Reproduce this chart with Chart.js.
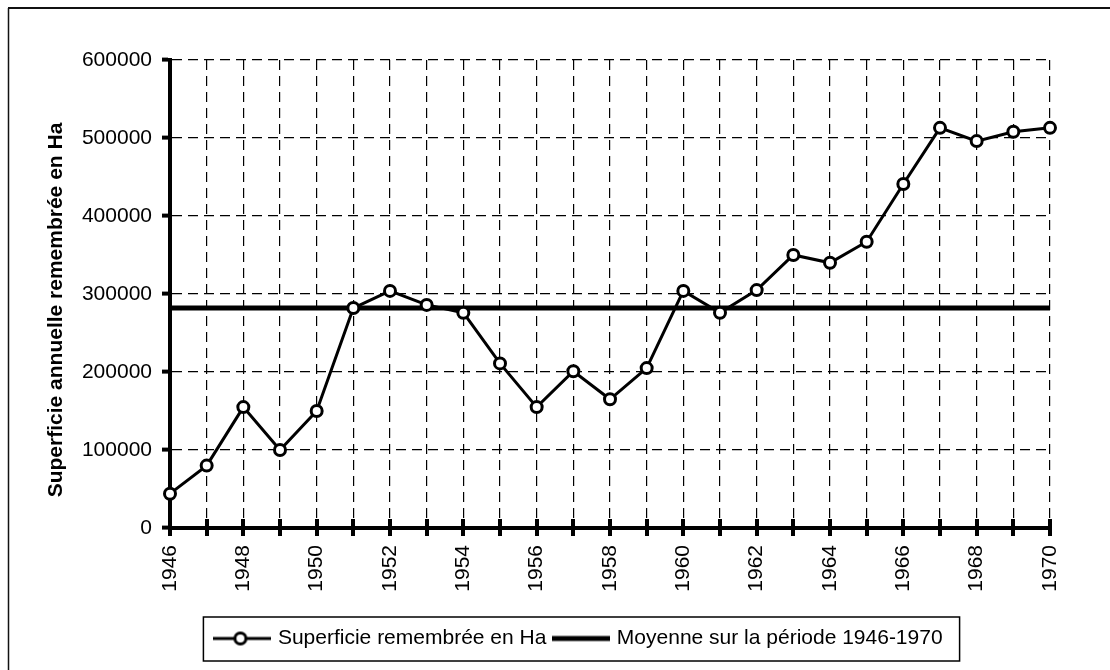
<!DOCTYPE html>
<html>
<head>
<meta charset="utf-8">
<title>Superficie remembrée 1946-1970</title>
<script src="https://cdn.jsdelivr.net/npm/chart.js@4/dist/chart.umd.min.js"></script>
<style>
  body { margin: 0; background: #fff; }
  canvas { display: block; }
</style>
</head>
<body>
<canvas id="chart" width="1110" height="670"></canvas>
<script>
// data
const years = [1946, 1947, 1948, 1949, 1950, 1951, 1952, 1953, 1954, 1955, 1956, 1957, 1958,
               1959, 1960, 1961, 1962, 1963, 1964, 1965, 1966, 1967, 1968, 1969, 1970];
const superficie = [44000, 80000, 155000, 100000, 150000, 282000, 304000, 286000, 276000, 211000,
                    155000, 201000, 165000, 205000, 304000, 276000, 305000, 350000, 340000, 367000,
                    441000, 513000, 496000, 508000, 513000];
const moyenne = [282000, 282000, 282000, 282000, 282000, 282000, 282000, 282000, 282000, 282000,
                 282000, 282000, 282000, 282000, 282000, 282000, 282000, 282000, 282000, 282000,
                 282000, 282000, 282000, 282000, 282000];
const yTicks = [0, 100000, 200000, 300000, 400000, 500000, 600000];
const shownYears = [1946, 1948, 1950, 1952, 1954, 1956, 1958, 1960, 1962, 1964, 1966, 1968, 1970];

const FONT = "'Liberation Sans', Arial, sans-serif";
const LEGEND_SHIFT = 55;

// little pictures for the legend (line + marker, thick line)
function legendSymbol(withCircle, lw) {
    var c = document.createElement('canvas');
    c.width = 58;
    c.height = 22;
    var g = c.getContext('2d');
    g.strokeStyle = '#000';
    g.lineWidth = lw;
    g.beginPath();
    g.moveTo(0, 11);
    g.lineTo(58, 11);
    g.stroke();
    if (withCircle) {
        g.beginPath();
        g.arc(27, 11, 5.5, 0, Math.PI * 2);
        g.fillStyle = '#fff';
        g.fill();
        g.lineWidth = 3;
        g.stroke();
    }
    return c;
}
const legendSymbols = [legendSymbol(true, 3), legendSymbol(false, 5)];

const framePlugin = {
    id: 'frame',
    afterLayout: function (chart) {
        // move the legend under the plot like in the original
        chart.legend.left += LEGEND_SHIFT;
        chart.legend.right += LEGEND_SHIFT;
    },
    afterDraw: function (chart) {
        var ctx = chart.ctx;
        var area = chart.chartArea;
        ctx.save();
        // outer frame (left and top edges only are in the scan)
        ctx.strokeStyle = '#111';
        ctx.lineWidth = 1.5;
        ctx.beginPath();
        ctx.moveTo(8.5, 670);
        ctx.lineTo(8.5, 8);
        ctx.stroke();
        ctx.lineWidth = 2;
        ctx.beginPath();
        ctx.moveTo(8, 8);
        ctx.lineTo(1110, 8);
        ctx.stroke();

        // x tick marks crossing the axis
        var xs = chart.scales.x;
        ctx.strokeStyle = '#000';
        ctx.lineWidth = 4;
        for (var i = 0; i < xs.ticks.length; i++) {
            var px = Math.round(xs.getPixelForTick(i));
            ctx.beginPath();
            ctx.moveTo(px, area.bottom - 9);
            ctx.lineTo(px, area.bottom + 8);
            ctx.stroke();
        }

        // y axis title
        ctx.translate(56, 310);
        ctx.rotate(-Math.PI / 2);
        ctx.fillStyle = '#000';
        ctx.font = 'bold 21px ' + FONT;
        ctx.textAlign = 'center';
        ctx.textBaseline = 'middle';
        ctx.fillText('Superficie annuelle remembrée en Ha', 0, 0);
        ctx.restore();

        // box round the legend
        var hb = chart.legend.legendHitBoxes;
        if (hb && hb.length) {
            var first = hb[0], last = hb[hb.length - 1];
            var x1 = first.left - 14;
            var x2 = last.left + last.width + 17;
            var y1 = first.top - 11;
            var y2 = first.top + first.height + 12;
            ctx.save();
            ctx.strokeStyle = '#000';
            ctx.lineWidth = 1.5;
            ctx.strokeRect(x1, y1, x2 - x1, y2 - y1);
            ctx.restore();
        }
    }
};

var ctx = document.getElementById('chart').getContext('2d');
var chart = new Chart(ctx, {
    type: 'line',
    data: {
        labels: years,
        datasets: [{
            label: 'Superficie remembrée en Ha',
            data: superficie,
            borderColor: '#000',
            borderWidth: 3,
            tension: 0,
            pointRadius: 5.5,
            pointBorderWidth: 3,
            pointBackgroundColor: '#fff',
            pointBorderColor: '#000',
            clip: false
        }, {
            label: 'Moyenne sur la période 1946-1970',
            data: moyenne,
            borderColor: '#000',
            borderWidth: 5,
            pointRadius: 0,
            tension: 0,
            clip: false
        }]
    },
    options: {
        responsive: false,
        animation: false,
        layout: { padding: { top: 60, right: 60, bottom: 11, left: 0 } },
        plugins: {
            tooltip: { enabled: false },
            legend: {
                position: 'bottom',
                align: 'center',
                labels: {
                    usePointStyle: true,
                    pointStyleWidth: 50,
                    padding: 10,
                    color: '#000',
                    font: { family: FONT, size: 21 },
                    generateLabels: function (chart) {
                        return chart.data.datasets.map(function (ds, i) {
                            return {
                                text: ds.label,
                                datasetIndex: i,
                                pointStyle: legendSymbols[i],
                                fillStyle: 'transparent',
                                strokeStyle: 'transparent',
                                lineWidth: 0,
                                fontColor: '#000',
                                hidden: false
                            };
                        });
                    }
                }
            }
        },
        scales: {
            x: {
                type: 'category',
                offset: false,
                afterFit: function (scale) { scale.height = 90; },
                grid: {
                    color: '#000',
                    lineWidth: 1.2,
                    tickLength: 8,
                    tickColor: 'rgba(0,0,0,0)'
                },
                border: { display: true, color: '#000', width: 4, dash: [10, 6] },
                ticks: {
                    autoSkip: false,
                    minRotation: 90,
                    maxRotation: 90,
                    padding: 9,
                    color: '#000',
                    font: { family: FONT, size: 21 },
                    callback: function (value, index) {
                        var y = years[index];
                        return shownYears.indexOf(y) >= 0 ? String(y) : '';
                    }
                }
            },
            y: {
                min: 0,
                max: 600000,
                afterFit: function (scale) { scale.width = 170; },
                afterBuildTicks: function (scale) {
                    scale.ticks = yTicks.map(function (v) { return { value: v }; });
                },
                grid: {
                    color: '#000',
                    lineWidth: 1.2,
                    tickLength: 8,
                    tickWidth: 4,
                    tickColor: '#000'
                },
                border: { display: true, color: '#000', width: 4, dash: [10, 6] },
                ticks: {
                    padding: 10,
                    color: '#000',
                    font: { family: FONT, size: 21 },
                    callback: function (value) { return String(value); }
                }
            }
        }
    },
    plugins: [framePlugin]
});
</script>
</body>
</html>
